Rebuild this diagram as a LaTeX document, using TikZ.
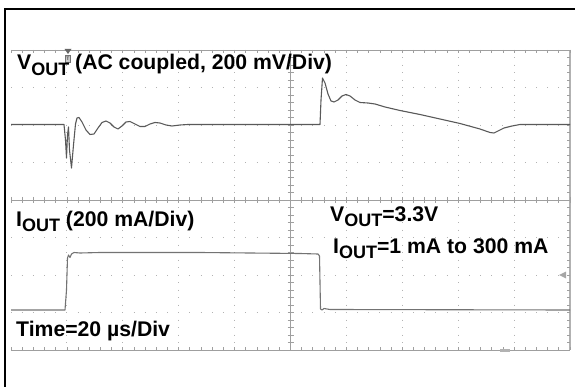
\documentclass[tikz,border=0pt]{standalone}
\usepackage{fontspec}
\setmainfont{Liberation Sans}
\newcommand{\subout}{\raisebox{-5.5pt}{\fontsize{18}{18}\selectfont OUT}}
\tikzset{
  lbl/.style={anchor=base west, inner sep=0pt, font=\bfseries\fontsize{21.2}{22}\selectfont},
  gridv/.style={draw=gray!60, line width=0.9pt, dash pattern=on 0.9pt off 6.6pt, dash phase=0.45pt},
  gridh/.style={draw=gray!60, line width=0.9pt, dash pattern=on 0.9pt off 10.28pt, dash phase=0.45pt},
  axis/.style={draw=gray!75, line width=0.8pt},
  trace/.style={draw=black!65, line width=1.1pt, line join=round}
}
\begin{document}
\begin{tikzpicture}[x=1pt, y=-1pt]
  \useasboundingbox (0,0) rectangle (575,387);
  % outer frame
  \draw[line width=2pt] (575,9.5) -- (4.5,9.5) -- (4.5,387);
  % graticule
  \foreach \i in {1,2,3,4,6,7,8,9}
    \draw[gridv] (11+55.9*\i,50) -- (11+55.9*\i,350);
  \foreach \j in {1,2,3,5,6,7}
    \draw[gridh] (11,50+37.5*\j) -- (570,50+37.5*\j);
  \draw[axis] (290.5,50) -- (290.5,350);
  \draw[axis] (11,200) -- (570,200);
  \draw[axis] (11,50) -- (570,50);
  \draw[axis] (11,350) -- (570,350);
  \draw[axis, line width=1.6pt, draw=gray!60] (570,50) -- (570,350);
  \foreach \k in {0,...,50} {
    \draw[axis] (11+11.18*\k,197) -- (11+11.18*\k,203);
    \draw[axis] (11+11.18*\k,50) -- (11+11.18*\k,53);
    \draw[axis] (11+11.18*\k,347) -- (11+11.18*\k,350);
  }
  \foreach \k in {0,...,40} {
    \draw[axis] (287.5,50+7.5*\k) -- (293.5,50+7.5*\k);
    \draw[axis] (567,50+7.5*\k) -- (570,50+7.5*\k);
  }
  % markers
  \fill[black!60] (64.5,49) -- (71.5,49) -- (68,54) -- cycle;
  \draw[black!55, fill=gray!40, line width=0.5pt] (65.5,55) rectangle (70.5,62);
  \node[font=\bfseries\fontsize{5}{5}\selectfont, inner sep=0pt, text=black!70] (trig) at (68,58.5) {T};
  \fill[gray!70] (559,275) -- (566,271.5) -- (566,278.5) -- cycle;
  \fill[gray!60] (500,348.5) rectangle (510,351.5);
  % V_OUT trace
  \draw[trace] (11,124.5) -- (64,124.5) -- (65.5,140) -- (66.5,158) -- (67.5,135)
    -- (68.5,127) -- (69.5,150) -- (71.5,168) -- (73.5,145) -- (75.5,124)
    -- (77,118) -- (79,117.5) -- (82,122) -- (86,130) -- (90,134.5) -- (94,134)
    -- (98,128) -- (102,122.5) -- (106,121) -- (110,123) -- (114,127) -- (118,129)
    -- (122,126) -- (126,122) -- (130,121.5) -- (135,124) -- (140,126.5) -- (145,126.5)
    -- (150,124) -- (155,122.5) -- (160,123) -- (166,125) -- (172,126) -- (180,125)
    -- (188,124.5) -- (320,124.5) -- (321,100) -- (322.5,78) -- (325,83) -- (328,94)
    -- (331,101) -- (334,102) -- (338,100) -- (342,96) -- (346,94.5) -- (350,96)
    -- (355,100) -- (360,102.5) -- (368,103) -- (375,104) -- (385,107) -- (400,110.5)
    -- (420,114.5) -- (440,119) -- (460,123.5) -- (480,129) -- (490,132.5) -- (494,133)
    -- (498,131) -- (504,128) -- (512,126) -- (520,124.5) -- (570,124.5);
  % I_OUT trace
  \draw[trace, draw=black!55] (11,310) -- (65,310) -- (66.5,290) -- (67.5,258)
    -- (68.5,255) -- (70,257.5) -- (71.5,254) -- (74,252.5) -- (80,253)
    -- (100,252.5) -- (200,252.5) -- (300,253.5) -- (318,254) -- (319.5,256)
    -- (320.5,309) -- (322,310) -- (324,308.5) -- (330,309.5) -- (570,310);
  % labels
  \draw
    (17,70) node[lbl] (vout) {V\subout}
    (75,70) node[lbl] (vscale) {(AC coupled, 200 mV/Div)}
    (16,226) node[lbl] (iout) {I\subout{} (200 mA/Div)}
    (16,336.5) node[lbl] (time) {Time=20 µs/Div}
    (330,221.5) node[lbl] (vset) {V\subout=3.3V}
    (333,253) node[lbl] (iset) {I\subout=1 mA to 300 mA};
\end{tikzpicture}
\end{document}
